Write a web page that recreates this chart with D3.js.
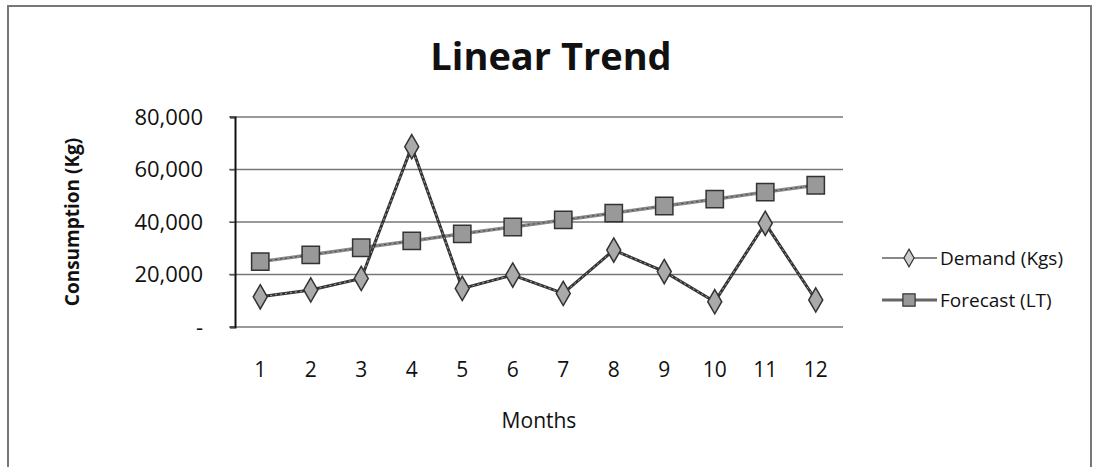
<!DOCTYPE html>
<html><head><meta charset="utf-8">
<script src="https://cdn.jsdelivr.net/npm/d3@7"></script>
<style>
html,body{margin:0;padding:0;background:#fff;}
svg{display:block;}
text{font-family:"Open Sans","Liberation Sans",sans-serif;fill:#111;}
</style></head>
<body>
<script>
const months = ["1","2","3","4","5","6","7","8","9","10","11","12"];
const demand = [11500, 14100, 18500, 68700, 14700, 19800, 12800, 29300, 21100, 9650, 39500, 10300];
const forecast = [24900, 27500, 30200, 32800, 35500, 38100, 40800, 43400, 46100, 48700, 51400, 54000];
const yTicks = [0, 20000, 40000, 60000, 80000];
const tickLabels = ["-", "20,000", "40,000", "60,000", "80,000"];
const seriesNames = ["Demand (Kgs)", "Forecast (LT)"];

const W = 1093, H = 467;
const svg = d3.select("body").append("svg").attr("width", W).attr("height", H);

// chart border
svg.append("rect").attr("x", 8).attr("y", 6).attr("width", 1083).attr("height", 470)
  .attr("fill", "none").attr("stroke", "#777").attr("stroke-width", 2);

const x = d3.scaleBand().domain(months).range([235, 841]);
const y = d3.scaleLinear().domain([0, 80000]).range([327, 117]);
const cx = d => x(d) + x.bandwidth() / 2;

// title
svg.append("text").attr("x", 551).attr("y", 70).attr("text-anchor", "middle")
  .style("font-size", "38px").style("font-weight", "bold").text("Linear Trend");

// gridlines
svg.append("g").selectAll("line").data(yTicks).join("line")
  .attr("x1", 229).attr("x2", 843).attr("y1", d => y(d)).attr("y2", d => y(d))
  .attr("stroke", "#777").attr("stroke-width", 1.3);

// y axis
const yAxis = d3.axisLeft(y).tickValues(yTicks).tickSize(5)
  .tickFormat((d, i) => tickLabels[i]);
const gy = svg.append("g").attr("transform", "translate(235,0)").call(yAxis);
gy.select(".domain").attr("stroke", "#111").attr("stroke-width", 2);
gy.selectAll(".tick line").attr("stroke", "#444");
gy.selectAll(".tick text").attr("x", -32).style("font-size", "22px").style("fill", "#111")
  .attr("font-family", null);

// x axis labels
const xAxis = d3.axisBottom(x).tickSize(0).tickPadding(0);
const gx = svg.append("g").attr("transform", "translate(0,327)").call(xAxis);
gx.select(".domain").remove();
gx.selectAll(".tick text").attr("dy", null).attr("y", 50).style("font-size", "21px").style("fill", "#111")
  .attr("font-family", null);

// axis titles
svg.append("text").attr("x", 539).attr("y", 428).attr("text-anchor", "middle")
  .style("font-size", "21px").text("Months");
svg.append("text").attr("transform", "translate(79,222) rotate(-90)").attr("text-anchor", "middle")
  .style("font-size", "19px").style("font-weight", "bold").text("Consumption  (Kg)");

const line = d3.line().x((d, i) => cx(months[i])).y(d => y(d));

// forecast line
svg.append("path").datum(forecast).attr("d", line).attr("fill", "none")
  .attr("stroke", "#888").attr("stroke-width", 3.5);
svg.append("path").datum(forecast).attr("d", line).attr("fill", "none")
  .attr("stroke", "#444").attr("stroke-width", 1).attr("stroke-dasharray", "2,3");
// demand line
svg.append("path").datum(demand).attr("d", line).attr("fill", "none")
  .attr("stroke", "#333").attr("stroke-width", 3);
svg.append("path").datum(demand).attr("d", line).attr("fill", "none")
  .attr("stroke", "#aaa").attr("stroke-width", 1).attr("stroke-dasharray", "2,3");

const sq = d3.symbol().type(d3.symbolSquare).size(300);
const dm = d3.symbol().type(d3.symbolDiamond).size(170);

svg.append("g").selectAll("path").data(forecast).join("path")
  .attr("d", sq).attr("transform", (d, i) => `translate(${cx(months[i])},${y(d)})`)
  .attr("fill", "#999").attr("stroke", "#333").attr("stroke-width", 1.5);
svg.append("g").selectAll("path").data(demand).join("path")
  .attr("d", dm).attr("transform", (d, i) => `translate(${cx(months[i])},${y(d)})`)
  .attr("fill", "#aaa").attr("stroke", "#333").attr("stroke-width", 1.5);

// legend
const lg = svg.append("g");
const ly = [258, 300];
[0, 1].forEach(i => {
  lg.append("line").attr("x1", 882).attr("x2", 937).attr("y1", ly[i]).attr("y2", ly[i])
    .attr("stroke", i === 0 ? "#888" : "#666").attr("stroke-width", i === 0 ? 2 : 3);
  lg.append("path").attr("d", i === 0 ? d3.symbol().type(d3.symbolDiamond).size(90)() : d3.symbol().type(d3.symbolSquare).size(150)())
    .attr("transform", `translate(909,${ly[i]})`)
    .attr("fill", i === 0 ? "#ccc" : "#999").attr("stroke", "#333").attr("stroke-width", 1.2);
  lg.append("text").attr("x", 940).attr("y", ly[i]).attr("dy", "0.35em")
    .style("font-size", "19px").text(seriesNames[i]);
});
</script>
</body></html>
